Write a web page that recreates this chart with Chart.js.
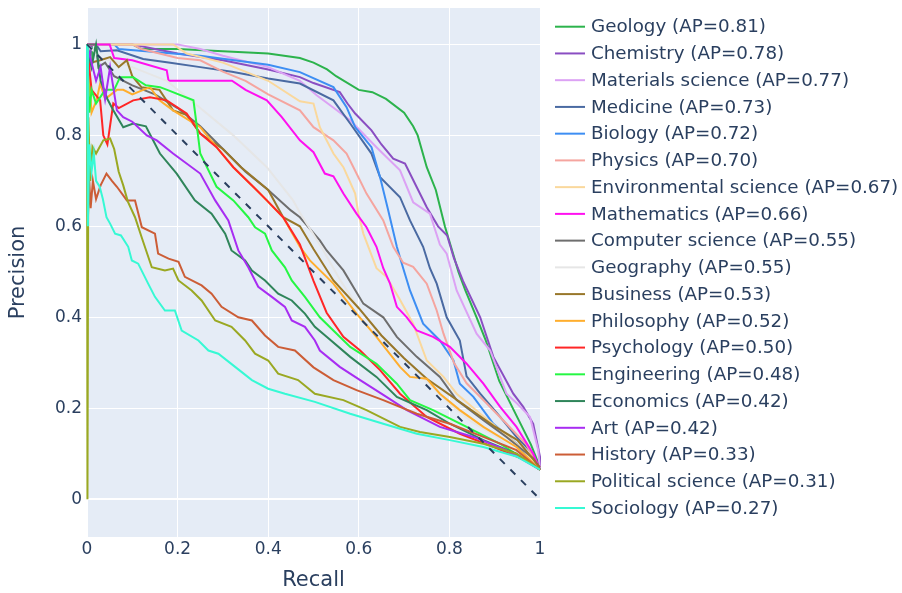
<!DOCTYPE html>
<html>
<head>
<meta charset="utf-8">
<script src="https://cdn.jsdelivr.net/npm/chart.js@4.4.1/dist/chart.umd.min.js"></script>
<style>
  body { margin: 0; background: #fff; }
  canvas { display: block; }
</style>
</head>
<body>
<canvas id="pr" width="902" height="593"></canvas>
<script>
// subjects and their average precision, in legend order
const subjects = ['Geology', 'Chemistry', 'Materials science', 'Medicine', 'Biology', 'Physics',
  'Environmental science', 'Mathematics', 'Computer science', 'Geography', 'Business', 'Philosophy',
  'Psychology', 'Engineering', 'Economics', 'Art', 'History', 'Political science', 'Sociology'];
const apValues = [0.81, 0.78, 0.77, 0.73, 0.72, 0.70, 0.67, 0.66, 0.55, 0.55, 0.53, 0.52,
  0.50, 0.48, 0.42, 0.42, 0.33, 0.31, 0.27];
const lineColors = ['#2cb34c', '#8a4ec2', '#dca2f4', '#4a6aa2', '#3d8ef3', '#f5a59f',
  '#fad89c', '#ff10f0', '#6e6e6e', '#e6e6e6', '#98772a', '#ffae2e',
  '#ff2626', '#25f743', '#2f855a', '#a82df2', '#cc5d36', '#9aa822', '#36f9d4'];

const xTicks = [0, 0.2, 0.4, 0.6, 0.8, 1];
const yTicks = [0, 0.2, 0.4, 0.6, 0.8, 1];

// [recall, precision] points
const geology = [[0,1],[0.01,1],[0.012,0.97],[0.02,1],[0.1,1],[0.12,0.99],[0.2,0.99],[0.3,0.985],[0.4,0.98],[0.47,0.97],[0.5,0.96],[0.53,0.945],[0.55,0.93],[0.6,0.9],[0.63,0.895],[0.66,0.88],[0.7,0.85],[0.72,0.82],[0.73,0.8],[0.75,0.73],[0.77,0.68],[0.79,0.6],[0.805,0.55],[0.82,0.5],[0.835,0.46],[0.86,0.4],[0.88,0.35],[0.91,0.26],[0.95,0.18],[0.98,0.12],[1,0.07]];
const chemistry = [[0,1],[0.005,0.95],[0.01,1],[0.1,1],[0.15,0.99],[0.2,0.98],[0.3,0.965],[0.4,0.945],[0.47,0.928],[0.5,0.915],[0.558,0.895],[0.575,0.87],[0.592,0.848],[0.628,0.811],[0.65,0.78],[0.676,0.749],[0.702,0.738],[0.728,0.686],[0.75,0.642],[0.775,0.6],[0.795,0.58],[0.81,0.53],[0.83,0.48],[0.868,0.4],[0.897,0.313],[0.941,0.232],[0.963,0.203],[0.985,0.166],[1,0.093],[1,0.07]];
const materials = [[0,1],[0.2,1],[0.25,0.99],[0.3,0.975],[0.4,0.95],[0.47,0.92],[0.507,0.888],[0.545,0.86],[0.581,0.833],[0.639,0.774],[0.691,0.723],[0.72,0.653],[0.757,0.628],[0.779,0.56],[0.794,0.54],[0.816,0.459],[0.86,0.364],[0.89,0.327],[0.926,0.232],[0.95,0.21],[0.978,0.181],[0.996,0.108],[1,0.066]];
const medicine = [[0,1],[0.02,1],[0.03,0.985],[0.066,0.987],[0.124,0.968],[0.18,0.96],[0.25,0.95],[0.32,0.94],[0.4,0.925],[0.47,0.914],[0.544,0.877],[0.581,0.826],[0.628,0.76],[0.647,0.708],[0.691,0.664],[0.713,0.613],[0.742,0.555],[0.757,0.508],[0.772,0.474],[0.794,0.4],[0.823,0.349],[0.838,0.27],[0.868,0.232],[0.912,0.181],[0.948,0.137],[0.985,0.1],[1,0.065]];
const biology = [[0,1],[0.06,1],[0.07,0.99],[0.13,0.985],[0.25,0.975],[0.4,0.955],[0.47,0.939],[0.544,0.906],[0.573,0.862],[0.592,0.818],[0.628,0.774],[0.647,0.708],[0.665,0.635],[0.684,0.555],[0.698,0.508],[0.713,0.459],[0.742,0.386],[0.779,0.349],[0.809,0.305],[0.823,0.254],[0.853,0.225],[0.897,0.166],[0.948,0.122],[1,0.065]];
const physics = [[0,1],[0.1,1],[0.12,0.99],[0.2,0.97],[0.25,0.965],[0.3,0.94],[0.35,0.92],[0.4,0.89],[0.47,0.855],[0.5,0.818],[0.544,0.789],[0.573,0.76],[0.595,0.716],[0.617,0.672],[0.654,0.613],[0.676,0.555],[0.698,0.52],[0.72,0.511],[0.75,0.474],[0.772,0.415],[0.787,0.364],[0.81,0.3],[0.838,0.255],[0.882,0.211],[0.926,0.166],[0.97,0.12],[1,0.065]];
const environmental = [[0,1],[0.19,1],[0.22,0.98],[0.3,0.96],[0.4,0.92],[0.47,0.875],[0.5,0.87],[0.514,0.818],[0.544,0.76],[0.566,0.73],[0.592,0.672],[0.599,0.628],[0.61,0.584],[0.639,0.508],[0.661,0.489],[0.69,0.44],[0.72,0.386],[0.75,0.305],[0.787,0.269],[0.816,0.232],[0.868,0.188],[0.912,0.152],[0.956,0.115],[1,0.065]];
const mathematics = [[0,1],[0.05,1],[0.06,0.97],[0.1,0.965],[0.176,0.943],[0.18,0.92],[0.25,0.92],[0.32,0.92],[0.35,0.9],[0.397,0.877],[0.43,0.84],[0.47,0.789],[0.5,0.763],[0.525,0.716],[0.544,0.71],[0.566,0.672],[0.595,0.628],[0.617,0.598],[0.639,0.555],[0.654,0.508],[0.669,0.474],[0.684,0.423],[0.706,0.4],[0.728,0.371],[0.764,0.357],[0.801,0.335],[0.838,0.298],[0.875,0.254],[0.912,0.203],[0.948,0.159],[0.985,0.1],[1,0.065]];
const computerScience = [[0,1],[0.02,1],[0.025,0.95],[0.04,0.96],[0.06,0.93],[0.1,0.91],[0.15,0.89],[0.2,0.86],[0.25,0.82],[0.3,0.77],[0.35,0.72],[0.4,0.68],[0.45,0.635],[0.47,0.62],[0.514,0.569],[0.529,0.547],[0.566,0.503],[0.61,0.43],[0.654,0.4],[0.684,0.357],[0.728,0.313],[0.779,0.269],[0.816,0.218],[0.875,0.174],[0.926,0.137],[0.985,0.09],[1,0.065]];
const geography = [[0,1],[0.03,0.97],[0.07,0.96],[0.1,0.95],[0.176,0.92],[0.25,0.86],[0.323,0.8],[0.397,0.73],[0.455,0.657],[0.47,0.63],[0.52,0.55],[0.56,0.48],[0.6,0.42],[0.65,0.36],[0.7,0.31],[0.75,0.26],[0.8,0.21],[0.85,0.17],[0.9,0.14],[0.95,0.1],[1,0.065]];
const business = [[0,1],[0.01,0.96],[0.029,0.965],[0.051,0.972],[0.07,0.95],[0.088,0.965],[0.1,0.93],[0.12,0.906],[0.16,0.9],[0.19,0.855],[0.22,0.845],[0.25,0.804],[0.3,0.77],[0.34,0.73],[0.4,0.68],[0.433,0.62],[0.47,0.6],[0.5,0.55],[0.544,0.481],[0.6,0.42],[0.65,0.36],[0.7,0.31],[0.75,0.265],[0.8,0.23],[0.85,0.195],[0.9,0.16],[0.95,0.13],[1,0.07]];
const philosophy = [[0,1],[0.01,0.85],[0.021,0.877],[0.029,0.914],[0.04,0.88],[0.066,0.9],[0.08,0.9],[0.1,0.89],[0.139,0.906],[0.16,0.877],[0.19,0.855],[0.25,0.818],[0.286,0.774],[0.323,0.73],[0.382,0.672],[0.433,0.62],[0.47,0.555],[0.492,0.525],[0.544,0.474],[0.595,0.408],[0.639,0.357],[0.691,0.291],[0.713,0.269],[0.75,0.265],[0.779,0.232],[0.823,0.196],[0.875,0.159],[0.948,0.115],[1,0.065]];
const psychology = [[0,1],[0.01,0.9],[0.029,0.877],[0.036,0.8],[0.045,0.78],[0.058,0.87],[0.07,0.86],[0.102,0.877],[0.139,0.884],[0.176,0.877],[0.22,0.848],[0.25,0.804],[0.286,0.774],[0.323,0.73],[0.367,0.687],[0.397,0.657],[0.433,0.62],[0.47,0.56],[0.5,0.48],[0.529,0.41],[0.566,0.357],[0.603,0.327],[0.647,0.284],[0.691,0.232],[0.75,0.181],[0.823,0.144],[0.897,0.115],[0.97,0.085],[1,0.065]];
const engineering = [[0,1],[0.005,0.85],[0.01,0.9],[0.02,0.87],[0.04,0.9],[0.06,0.9],[0.073,0.928],[0.102,0.928],[0.13,0.91],[0.161,0.906],[0.177,0.9],[0.235,0.877],[0.245,0.8],[0.25,0.76],[0.286,0.687],[0.323,0.657],[0.356,0.62],[0.371,0.598],[0.393,0.584],[0.408,0.547],[0.437,0.51],[0.452,0.481],[0.481,0.445],[0.514,0.4],[0.581,0.335],[0.639,0.298],[0.684,0.254],[0.713,0.218],[0.764,0.196],[0.838,0.159],[0.912,0.122],[0.97,0.085],[1,0.065]];
const economics = [[0,1],[0.01,0.95],[0.02,1],[0.03,0.92],[0.045,0.88],[0.058,0.855],[0.08,0.818],[0.102,0.826],[0.13,0.82],[0.161,0.76],[0.198,0.716],[0.238,0.657],[0.275,0.628],[0.305,0.584],[0.319,0.547],[0.349,0.525],[0.364,0.503],[0.393,0.481],[0.422,0.452],[0.452,0.437],[0.481,0.408],[0.503,0.379],[0.529,0.357],[0.581,0.313],[0.639,0.269],[0.684,0.225],[0.75,0.196],[0.801,0.166],[0.875,0.13],[0.948,0.1],[1,0.065]];
const art = [[0,1],[0.02,0.92],[0.03,0.95],[0.04,0.88],[0.051,0.95],[0.066,0.855],[0.08,0.84],[0.1,0.83],[0.132,0.8],[0.154,0.789],[0.19,0.76],[0.25,0.716],[0.283,0.657],[0.312,0.613],[0.334,0.547],[0.356,0.51],[0.378,0.467],[0.408,0.445],[0.437,0.423],[0.452,0.393],[0.481,0.379],[0.503,0.349],[0.514,0.327],[0.558,0.291],[0.603,0.262],[0.661,0.225],[0.706,0.196],[0.779,0.159],[0.853,0.137],[0.926,0.108],[1,0.065]];
const history = [[0,1],[0.002,0.62],[0.005,0.7],[0.008,0.64],[0.013,0.7],[0.02,0.66],[0.03,0.69],[0.043,0.716],[0.055,0.7],[0.066,0.687],[0.088,0.657],[0.106,0.657],[0.121,0.598],[0.15,0.584],[0.157,0.54],[0.18,0.529],[0.202,0.522],[0.216,0.489],[0.253,0.47],[0.275,0.452],[0.297,0.423],[0.334,0.4],[0.364,0.393],[0.393,0.36],[0.422,0.335],[0.459,0.327],[0.5,0.29],[0.544,0.262],[0.595,0.24],[0.654,0.218],[0.728,0.188],[0.801,0.166],[0.875,0.137],[0.948,0.108],[1,0.065]];
const politicalScience = [[0,1],[0.001,0],[0.003,0.84],[0.007,0.7],[0.012,0.775],[0.02,0.76],[0.036,0.789],[0.051,0.793],[0.06,0.77],[0.07,0.72],[0.08,0.69],[0.09,0.655],[0.106,0.62],[0.121,0.575],[0.143,0.51],[0.172,0.503],[0.19,0.507],[0.202,0.481],[0.231,0.459],[0.253,0.437],[0.283,0.393],[0.319,0.379],[0.349,0.349],[0.371,0.32],[0.4,0.305],[0.422,0.276],[0.466,0.262],[0.503,0.232],[0.566,0.218],[0.617,0.196],[0.691,0.159],[0.735,0.148],[0.801,0.137],[0.875,0.122],[0.948,0.1],[1,0.065]];
const sociology = [[0,1],[0.002,0.6],[0.005,0.78],[0.01,0.72],[0.015,0.76],[0.02,0.7],[0.028,0.687],[0.035,0.66],[0.043,0.62],[0.051,0.606],[0.062,0.584],[0.075,0.58],[0.091,0.555],[0.099,0.525],[0.113,0.518],[0.135,0.474],[0.15,0.445],[0.172,0.415],[0.194,0.415],[0.209,0.371],[0.246,0.349],[0.268,0.327],[0.29,0.32],[0.327,0.291],[0.364,0.262],[0.4,0.243],[0.437,0.232],[0.503,0.214],[0.581,0.188],[0.654,0.166],[0.728,0.144],[0.801,0.13],[0.875,0.115],[0.948,0.094],[1,0.065]];
const chance = [[0,1],[1,0]];

const curves = [geology, chemistry, materials, medicine, biology, physics, environmental, mathematics,
  computerScience, geography, business, philosophy, psychology, engineering, economics, art,
  history, politicalScience, sociology];

const toXY = pts => pts.map(p => ({x: p[0], y: p[1]}));
const labelFor = i => subjects[i] + ' (AP=' + apValues[i].toFixed(2) + ')';

const datasets = curves.map((c, i) => ({
  label: labelFor(i),
  data: toXY(c),
  borderColor: lineColors[i],
  borderWidth: 2,
  order: curves.length - i + 1   // later traces on top, like the original
}));
datasets.push({
  label: 'chance',
  data: toXY(chance),
  borderColor: '#2a3f5f',
  borderWidth: 2,
  borderDash: [7, 8],
  order: 0
});

const ink = '#2a3f5f';
const font = 'DejaVu Sans';

// plot background
const plotBg = {
  id: 'plotBg',
  beforeDraw(chart) {
    const a = chart.chartArea, ctx = chart.ctx;
    ctx.save();
    ctx.fillStyle = '#e5ecf6';
    ctx.fillRect(a.left, a.top, a.right - a.left, a.bottom - a.top);
    ctx.restore();
  }
};

// legend at the right, drawn by hand
const sideLegend = {
  id: 'sideLegend',
  afterDraw(chart) {
    const ctx = chart.ctx;
    ctx.save();
    ctx.font = '18.3px "' + font + '"';
    ctx.textBaseline = 'middle';
    ctx.textAlign = 'left';
    subjects.forEach((s, i) => {
      const y = 26.7 + i * 26.74;
      ctx.strokeStyle = lineColors[i];
      ctx.lineWidth = 2;
      ctx.beginPath();
      ctx.moveTo(555, y);
      ctx.lineTo(585, y);
      ctx.stroke();
      ctx.fillStyle = ink;
      ctx.fillText(labelFor(i), 591, y + 1);
    });
    ctx.restore();
  }
};

const tickText = v => (v === 0 ? '0' : v === 1 ? '1' : String(v));

new Chart(document.getElementById('pr'), {
  type: 'scatter',
  data: { datasets },
  options: {
    responsive: false,
    animation: false,
    devicePixelRatio: 1,
    showLine: true,
    layout: { padding: { top: 8, right: 362, bottom: 0, left: 0 } },
    elements: {
      point: { radius: 0 },
      line: { tension: 0, fill: false }
    },
    datasets: { scatter: { clip: false } },
    plugins: {
      legend: { display: false },
      tooltip: { enabled: false }
    },
    scales: {
      x: {
        type: 'linear',
        min: 0,
        max: 1,
        afterBuildTicks: s => { s.ticks = xTicks.map(v => ({ value: v })); },
        afterFit: s => { s.height = 56; s.paddingLeft = 0; s.paddingRight = 0; },
        grid: { color: '#ffffff', lineWidth: c => (c.tick && c.tick.value === 0 ? 2 : 1), drawTicks: false },
        border: { display: false },
        ticks: { color: ink, font: { family: font, size: 17 }, padding: 2, maxRotation: 0, callback: v => tickText(v) },
        title: { display: true, text: 'Recall', color: ink, font: { family: font, size: 21 }, padding: { top: 0, bottom: 0 } }
      },
      y: {
        type: 'linear',
        min: -0.083,
        max: 1.08,
        afterBuildTicks: s => { s.ticks = yTicks.map(v => ({ value: v })); },
        afterFit: s => { s.width = 87; s.paddingTop = 0; s.paddingBottom = 0; },
        grid: { color: '#ffffff', lineWidth: c => (c.tick && c.tick.value === 0 ? 2 : 1), drawTicks: false },
        border: { display: false },
        ticks: { color: ink, font: { family: font, size: 17 }, padding: 5, callback: v => tickText(v) },
        title: { display: true, text: 'Precision', color: ink, font: { family: font, size: 21 }, padding: { top: 6, bottom: 0 } }
      }
    }
  },
  plugins: [plotBg, sideLegend]
});
</script>
</body>
</html>
